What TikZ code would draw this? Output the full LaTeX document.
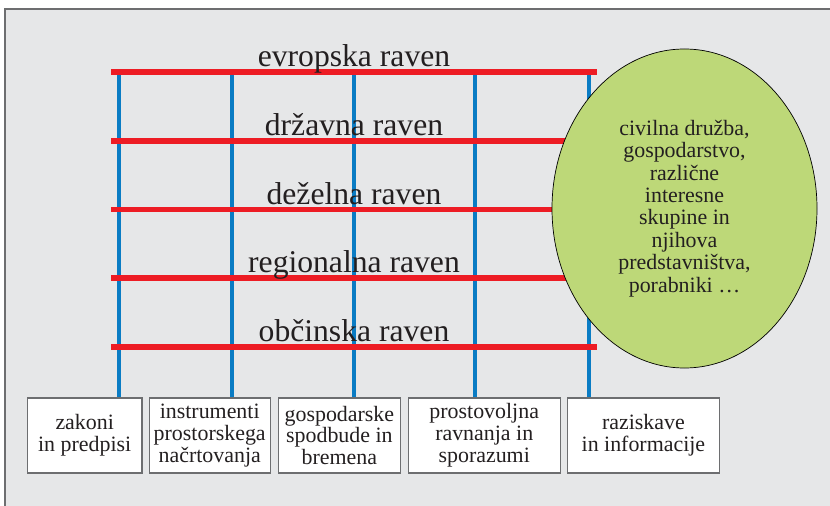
\documentclass[tikz,border=0pt]{standalone}
\usepackage{fontspec}
\setmainfont{Liberation Serif}
\usetikzlibrary{positioning,shapes.geometric}
\definecolor{bggray}{HTML}{E6E7E8}
\definecolor{framegray}{HTML}{6D6E70}
\definecolor{levelred}{HTML}{ED1C24}
\definecolor{pillarblue}{HTML}{0A7CC4}
\definecolor{civilgreen}{HTML}{BDD878}
\definecolor{inkgray}{HTML}{231F20}

\begin{document}
\begin{tikzpicture}[x=0.03cm,y=-0.03cm,
        level/.style={line width=5.1pt,levelred},
        pillar/.style={line width=3.4pt,pillarblue},
        levellabel/.style={anchor=base,inner sep=0pt,text=inkgray,font=\fontsize{27}{27}\selectfont},
        tool/.style={draw=framegray,line width=1pt,fill=white,text=inkgray,align=center,
                     minimum height=2.25cm,inner sep=1pt,font=\fontsize{18.7}{18.7}\selectfont},
        actors/.style={ellipse,draw=black,line width=0.6pt,fill=civilgreen,text=inkgray,align=center,
                       minimum width=7.95cm,minimum height=9.57cm,inner sep=0pt,
                       font=\fontsize{18.7}{19.1}\selectfont}]

        \useasboundingbox (0,0) rectangle (830,506);
        \draw[fill=bggray,draw=framegray,line width=1.3pt] (5,9) rectangle (845,520);

        % levels
        \coordinate (EVl) at (111,72);    \coordinate (EVr) at (597,72);
        \coordinate (DRl) at (111,140.75);\coordinate (DRr) at (597,140.75);
        \coordinate (DEl) at (111,209.5); \coordinate (DEr) at (597,209.5);
        \coordinate (RGl) at (111,278.25);\coordinate (RGr) at (597,278.25);
        \coordinate (OBl) at (111,347);   \coordinate (OBr) at (597,347);

        % pillar tops
        \coordinate (P1) at (118.6,72);
        \coordinate (P2) at (232,72);
        \coordinate (P3) at (353.6,72);
        \coordinate (P4) at (475,72);
        \coordinate (P5) at (589.2,72);

        \node[tool,minimum width=3.44cm]                  (B1) at (84.7,435.5) {zakoni\\in predpisi};
        \node[tool,minimum width=3.63cm,right=0.18cm of B1] (B2) {instrumenti\\prostorskega\\načrtovanja};
        \node[tool,minimum width=3.66cm,right=0.21cm of B2] (B3) {gospodarske\\spodbude in\\bremena};
        \node[tool,minimum width=4.56cm,right=0.2cm of B3]  (B4) {prostovoljna\\ravnanja in\\sporazumi};
        \node[tool,minimum width=4.56cm,right=0.18cm of B4] (B5) {raziskave\\in informacije};

        \draw[pillar] (P1) -- (P1 |- B1.north);
        \draw[pillar] (P2) -- (P2 |- B2.north);
        \draw[pillar] (P3) -- (P3 |- B3.north);
        \draw[pillar] (P4) -- (P4 |- B4.north);
        \draw[pillar] (P5) -- (P5 |- B5.north);

        \draw[level] (EVl) -- (EVr);
        \draw[level] (DRl) -- (DRr);
        \draw[level] (DEl) -- (DEr);
        \draw[level] (RGl) -- (RGr);
        \draw[level] (OBl) -- (OBr);

        \node[levellabel] (EV) at (354,66.5)   {evropska raven};
        \node[levellabel] (DR) at (354,135.25) {državna raven};
        \node[levellabel] (DE) at (354,204)    {deželna raven};
        \node[levellabel] (RG) at (354,272.75) {regionalna raven};
        \node[levellabel] (OB) at (354,341.5)  {občinska raven};

        \node[actors] (CD) at (684.5,208.5)
                {civilna družba,\\gospodarstvo,\\različne\\interesne\\skupine in\\njihova\\predstavništva,\\porabniki …};
\end{tikzpicture}
\end{document}
